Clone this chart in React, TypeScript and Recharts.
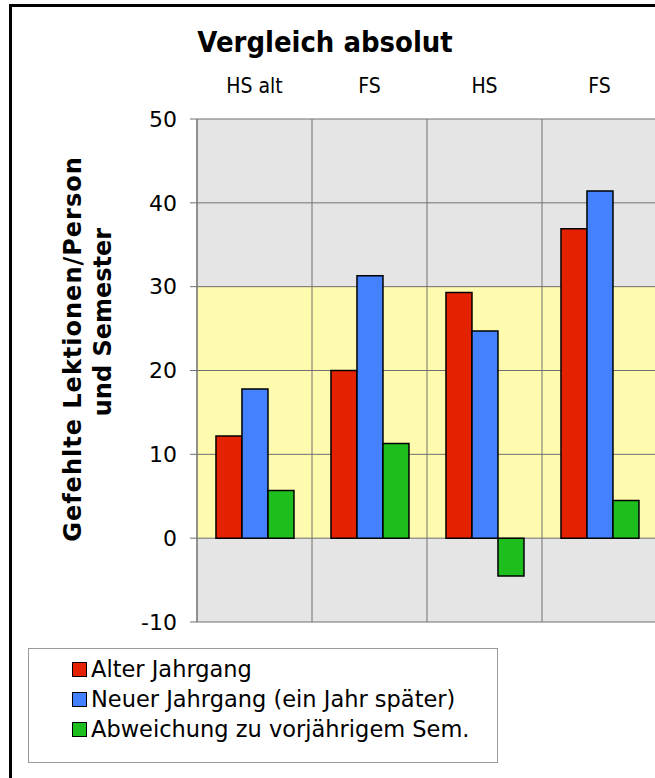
import { BarChart, Bar, XAxis, YAxis, CartesianGrid } from 'recharts';

const categories = ['HS alt', 'FS', 'HS', 'FS'];
const alterJahrgang = [12.2, 20.0, 29.3, 36.9];
const neuerJahrgang = [17.8, 31.3, 24.7, 41.4];
const abweichung = [5.7, 11.3, -4.5, 4.5];
const yTicks = [-10, 0, 10, 20, 30, 40, 50];

const series = [
  { key: 'alt', name: 'Alter Jahrgang', color: '#e42200' },
  { key: 'neu', name: 'Neuer Jahrgang (ein Jahr später)', color: '#4381ff' },
  { key: 'abw', name: 'Abweichung zu vorjährigem Sem.', color: '#1fbe1f' },
];

const data = categories.map((c, i) => ({
  name: c,
  alt: alterJahrgang[i],
  neu: neuerJahrgang[i],
  abw: abweichung[i],
}));

const font = '"DejaVu Sans", Verdana, sans-serif';
const GRAY = '#e5e5e5';
const YELLOW = '#fffbae';

// category labels sit above the plot
const TopTick = ({ x, payload }: any) => (
  <text x={x} y={93} textAnchor="middle" fontSize={21} fill="#000"
    fontFamily='"Liberation Sans Narrow", "DejaVu Sans Condensed", sans-serif'>
    {payload.value}
  </text>
);

export default function App() {
  return (
    <div style={{ position: 'absolute', left: 0, top: 0, width: 655, height: 778, overflow: 'hidden', background: '#fff', fontFamily: font }}>
      {/* outer frame */}
      <div style={{ position: 'absolute', left: 9, top: 4, width: 700, height: 800, border: '3px solid #000', boxSizing: 'border-box' }} />

      <div style={{ position: 'absolute', left: 175, top: 27, width: 300, textAlign: 'center', fontSize: 26, fontWeight: 'bold', transform: 'scaleY(1.1)' }}>
        Vergleich absolut
      </div>

      <div style={{ position: 'absolute', left: 0, top: 0 }}>
        <BarChart width={680} height={645} data={data}
          margin={{ top: 99, right: 23, bottom: 23, left: 77 }}
          barCategoryGap="16.5%" barGap={0}>
          {/* stripes top to bottom: 50-40, 40-30, 30-20, 20-10, 10-0, 0-(-10) */}
          <CartesianGrid stroke="#707070" strokeWidth={1} fillOpacity={1}
            horizontalFill={[GRAY, GRAY, YELLOW, YELLOW, YELLOW, GRAY]}
            verticalCoordinatesGenerator={({ offset }: any) =>
              categories.map((_, i) => offset.left + (offset.width * i) / categories.length).concat(offset.left + offset.width)} />
          <XAxis dataKey="name" orientation="top" height={20} axisLine={false} tickLine={false} tick={<TopTick />} interval={0} />
          <YAxis domain={[-10, 50]} ticks={yTicks} interval={0} width={120}
            axisLine={{ stroke: '#707070' }} tickLine={{ stroke: '#707070' }} tickSize={7} tickMargin={13}
            tick={{ fontSize: 22, fill: '#000', fontFamily: font }} />
          {series.map(s => (
            <Bar key={s.key} dataKey={s.key} name={s.name} fill={s.color} stroke="#000" strokeWidth={1.5} isAnimationActive={false} />
          ))}
        </BarChart>
      </div>

      {/* y axis title, two lines */}
      <div style={{ position: 'absolute', left: 73, top: 349, width: 0, height: 0 }}>
        <div style={{ position: 'absolute', transform: 'translate(-50%, -50%) rotate(-90deg)', whiteSpace: 'nowrap', fontSize: 24, fontWeight: 'bold', letterSpacing: 1 }}>
          Gefehlte Lektionen/Person
        </div>
      </div>
      <div style={{ position: 'absolute', left: 103, top: 322, width: 0, height: 0 }}>
        <div style={{ position: 'absolute', transform: 'translate(-50%, -50%) rotate(-90deg)', whiteSpace: 'nowrap', fontSize: 24, fontWeight: 'bold' }}>
          und Semester
        </div>
      </div>

      {/* legend */}
      <div style={{ position: 'absolute', left: 28, top: 648, width: 470, height: 115, border: '1px solid #9a9a9a', boxSizing: 'border-box', paddingTop: 5 }}>
        {series.map(s => (
          <div key={s.key} style={{ display: 'flex', alignItems: 'center', height: 30, paddingLeft: 43, fontSize: 22.5, color: '#000', whiteSpace: 'nowrap' }}>
            <span style={{ display: 'inline-block', width: 13, height: 13, background: s.color, border: '1.5px solid #000', marginRight: 4, flexShrink: 0 }} />
            {s.name}
          </div>
        ))}
      </div>
    </div>
  );
}
